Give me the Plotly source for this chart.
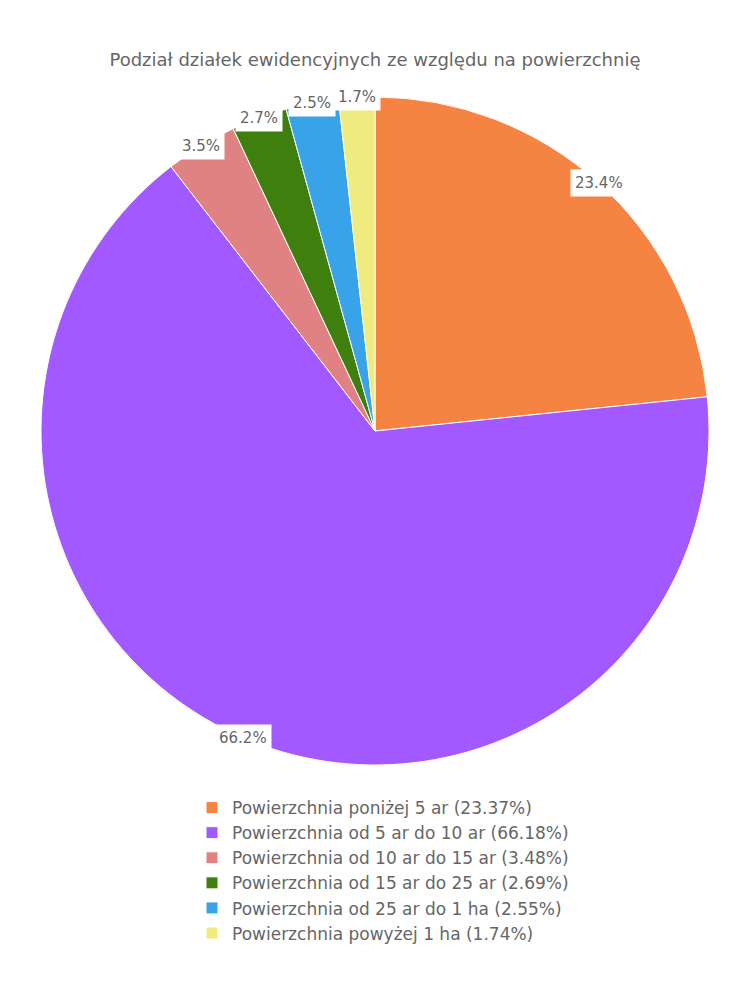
import math
import plotly.graph_objects as go

title = "Podział działek ewidencyjnych ze względu na powierzchnię"
categories = [
    "Powierzchnia poniżej 5 ar",
    "Powierzchnia od 5 ar do 10 ar",
    "Powierzchnia od 10 ar do 15 ar",
    "Powierzchnia od 15 ar do 25 ar",
    "Powierzchnia od 25 ar do 1 ha",
    "Powierzchnia powyżej 1 ha",
]
values = [23.37, 66.18, 3.48, 2.69, 2.55, 1.74]
colors = ["#F58442", "#A259FF", "#E08283", "#3F7F0E", "#38A3E8", "#F0EB7E"]

W, H = 750, 1000
FONT = "DejaVu Sans"
TEXT_COLOR = "#666666"
# the page body adds an 8px margin, so the figure is offset by 8px
dom_x = [0.044, 0.9347]
dom_y = [0.243, 0.911]

legend_labels = [f"{c} ({v:.2f}%)" for c, v in zip(categories, values)]

fig = go.Figure()
fig.add_trace(go.Pie(
    labels=legend_labels,
    values=values,
    marker=dict(colors=colors, line=dict(color="white", width=1)),
    sort=False,
    direction="clockwise",
    rotation=0,
    textinfo="none",
    hoverinfo="label+percent",
    domain=dict(x=dom_x, y=dom_y),
))

# percentage labels centred on the rim, computed from the data
total = sum(values)
R_px = min((dom_x[1] - dom_x[0]) * W, (dom_y[1] - dom_y[0]) * H) / 2
cx = (dom_x[0] + dom_x[1]) / 2
cy = (dom_y[0] + dom_y[1]) / 2
cum = 0.0
for v in values:
    theta = 2 * math.pi * (cum + v / 2) / total
    cum += v
    fig.add_annotation(
        x=cx + R_px * math.sin(theta) / W,
        y=cy + R_px * math.cos(theta) / H,
        xref="paper", yref="paper",
        xanchor="center", yanchor="middle",
        text=f"{100 * v / total:.1f}%",
        showarrow=False,
        bgcolor="white",
        borderpad=4,
        font=dict(family=FONT, size=15, color=TEXT_COLOR),
    )

fig.update_layout(
    width=W, height=H,
    margin=dict(l=0, r=0, t=0, b=0),
    paper_bgcolor="white",
    font=dict(family=FONT, color=TEXT_COLOR),
    title=dict(text=title, x=0.4893, xanchor="center", y=0.948, yanchor="middle",
               font=dict(family=FONT, size=18, color=TEXT_COLOR)),
    showlegend=True,
    legend=dict(
        orientation="v",
        x=0.5, xanchor="center",
        y=0.218, yanchor="top",
        font=dict(family=FONT, size=17, color=TEXT_COLOR),
        itemclick=False,
    ),
)

fig.write_html("out.html")
